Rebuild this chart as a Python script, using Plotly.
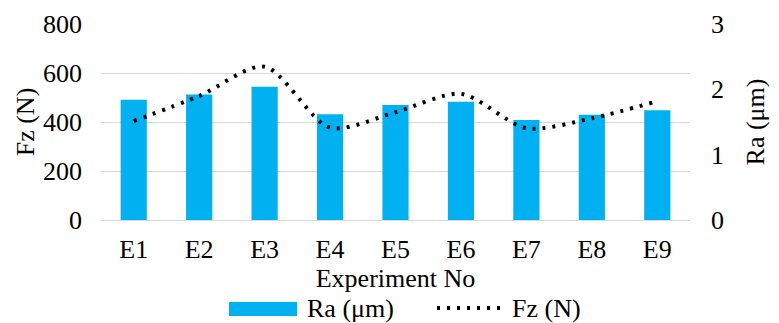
import plotly.graph_objects as go

experiments = ["E1", "E2", "E3", "E4", "E5", "E6", "E7", "E8", "E9"]
ra_um = [1.84, 1.92, 2.04, 1.62, 1.76, 1.81, 1.53, 1.61, 1.68]
fz_n = [404, 506, 626, 377, 440, 515, 375, 415, 485]
ra_name = "Ra (μm)"
fz_name = "Fz (N)"

FONT = "'Liberation Serif', 'Times New Roman', serif"
FS = 26
TXT = dict(family=FONT, size=FS, color="black")
BAR_COLOR = "#00B0F0"
DOT = "3px,7px"

fig = go.Figure()
fig.add_trace(go.Bar(x=experiments, y=ra_um, name=ra_name, yaxis="y",
                     marker=dict(color=BAR_COLOR, line=dict(width=0)), width=0.4))
fig.add_trace(go.Scatter(x=experiments, y=fz_n, name=fz_name, yaxis="y2", mode="lines",
                         line=dict(color="black", width=4, dash=DOT, shape="spline", smoothing=0.8)))

# legend drawn below the axis title (wide bar swatch like the reference)
fig.add_shape(type="rect", xref="paper", yref="paper", x0=0.2173, x1=0.3328, y0=-0.490, y1=-0.418,
              fillcolor=BAR_COLOR, line=dict(width=0))
fig.add_annotation(text=ra_name, xref="paper", yref="paper", x=0.3464, y=-0.454,
                   xanchor="left", yanchor="middle", showarrow=False, font=TXT)
fig.add_shape(type="line", xref="paper", yref="paper", x0=0.5705, x1=0.6893, y0=-0.449, y1=-0.449,
              line=dict(color="black", width=4, dash=DOT))
fig.add_annotation(text=fz_name, xref="paper", yref="paper", x=0.6944, y=-0.454,
                   xanchor="left", yanchor="middle", showarrow=False, font=TXT)

fig.update_layout(
    width=771, height=315,
    margin=dict(l=93, r=89, t=16, b=103, autoexpand=False),
    plot_bgcolor="white", paper_bgcolor="white",
    font=TXT,
    xaxis=dict(showgrid=False, showline=True, linecolor="#d9d9d9", linewidth=1,
               ticks="", ticklabelstandoff=6, automargin=False, tickfont=TXT,
               title=dict(text="Experiment No", standoff=2, font=TXT)),
    yaxis=dict(side="right", range=[0, 3], tickvals=[0, 1, 2, 3], showgrid=False,
               zeroline=False, ticklabelstandoff=20, automargin=False, tickfont=TXT,
               title=dict(text=ra_name, standoff=22, font=TXT)),
    yaxis2=dict(side="left", overlaying="y", range=[0, 800], tickvals=[0, 200, 400, 600, 800],
                showgrid=True, gridcolor="#d9d9d9", gridwidth=1, zeroline=False,
                ticklabelstandoff=18, automargin=False, tickfont=TXT,
                title=dict(text=fz_name, standoff=0, font=TXT)),
    bargap=0.6,
    showlegend=False,
)

fig.write_html("out.html")
